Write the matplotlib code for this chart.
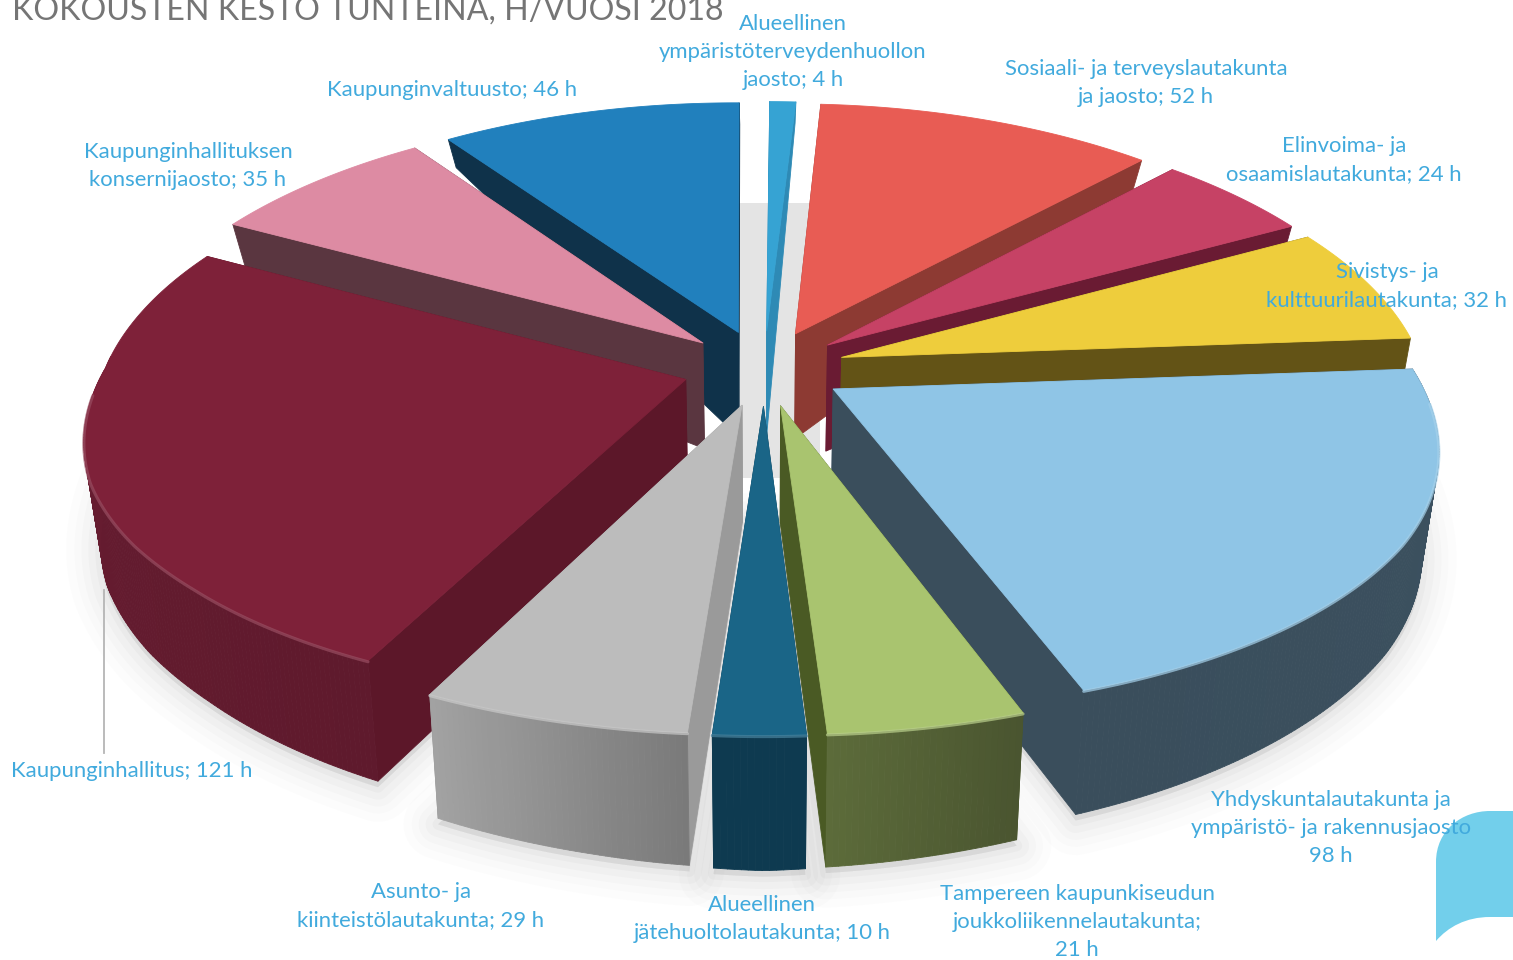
import numpy as np
import matplotlib
matplotlib.use("Agg")
import matplotlib.pyplot as plt
from matplotlib.patches import Polygon, PathPatch, Rectangle
from matplotlib.path import Path

# clockwise from 12 o'clock
hours = [4, 52, 24, 32, 98, 21, 10, 29, 121, 35, 46]
names = [
    "Alueellinen\nympäristöterveydenhuollon\njaosto; ",
    "Sosiaali- ja terveyslautakunta\nja jaosto; ",
    "Elinvoima- ja\nosaamislautakunta; ",
    "Sivistys- ja\nkulttuurilautakunta; ",
    "Yhdyskuntalautakunta ja\nympäristö- ja rakennusjaosto\n",
    "Tampereen kaupunkiseudun\njoukkoliikennelautakunta;\n",
    "Alueellinen\njätehuoltolautakunta; ",
    "Asunto- ja\nkiinteistölautakunta; ",
    "Kaupunginhallitus; ",
    "Kaupunginhallituksen\nkonsernijaosto; ",
    "Kaupunginvaltuusto; ",
]
top_colors = ["#36a3d3", "#e85c54", "#c64265", "#eecd3c", "#8fc5e6", "#a9c46f",
              "#1a6587", "#bcbcbc", "#7e2139", "#dd8ba3", "#2180bd"]
cut_colors = ["#2e8ab5", "#8d3a33", "#6a1b33", "#635316", "#3a4e5c", "#4a5a24",
              "#0e3a50", "#9a9a9a", "#5c1729", "#5a3640", "#0f324a"]
wall_start = ["#2e8ab5", "#8d3a33", "#6a1b33", "#635316", "#3c5160", "#4a5530",
              "#0e3a50", "#7a7a7a", "#5f1a2d", "#5a3640", "#0f324a"]
wall_end = ["#2e8ab5", "#8d3a33", "#6a1b33", "#635316", "#3a4e5c", "#5c6b3a",
            "#0e3a50", "#a2a2a2", "#6b1d32", "#5a3640", "#0f324a"]
label_x = [793, 1146, 1344, 1387, 1331, 1077, 762, 421, 132, 188, 452]
label_y = [52, 83, 160, 286, 828, 922, 919, 906, 771, 166, 90]

title = "KOKOUSTEN KESTO TUNTEINA, H/VUOSI 2018"
label_color = "#41aadd"

# projection of the pie plane to pixels
CX, CY = 764, 368
RX, RY = 612, 271
PERSP = 0.14
EXPLODE = 0.14
START = 0.4


def project(x, y):
    x = np.asarray(x)
    y = np.asarray(y)
    s = 1 / (1 + PERSP * y)
    squeeze = np.interp(y, [-1.2, -0.6, 0, 1.2], [1.0, 0.985, 0.95, 0.93])
    # the left half is not quite symmetric in the original
    back = 8 * np.clip(2 * y, 0, 1)
    front = 8 * np.clip(-3 * (y + 0.4), 0, 1) * np.clip(-4 * x, 0, 1)
    nudge = np.where(x < 0, back - front, 0)
    return CX + RX * x * s * squeeze - nudge, CY - RY * y * s


def depth_height(x, y):
    h = np.interp(y, [-1.2, -0.2, 0.15, 0.6, 1.2], [136, 120, 105, 50, 18])
    return h * (1 - 0.15 * np.abs(x))


def wedge_points(t0, t1, off):
    t = np.radians(np.linspace(t0, t1, max(int(t1 - t0) * 2, 4)))
    ox = off * np.sin(np.radians((t0 + t1) / 2))
    oy = off * np.cos(np.radians((t0 + t1) / 2))
    return ox, oy, ox + np.sin(t), oy + np.cos(t), t


def to_bottom(x, y):
    px, py = project(x, y)
    return px + (CX - px) * 0.025, py + depth_height(x, y)


def poly(ax, pts, color, z, alpha=None):
    ax.add_patch(Polygon(pts, closed=True, facecolor=color, edgecolor=color,
                         lw=0.6, zorder=z, alpha=alpha, joinstyle="round"))


def mix(c0, c1, f):
    a = np.array(matplotlib.colors.to_rgb(c0))
    b = np.array(matplotlib.colors.to_rgb(c1))
    return tuple(a + (b - a) * f)


def draw_floor(ax, spans):
    # soft shadow: stacked thick outlines of the front wedge footprints
    for lw, a in [(50, 0.02), (38, 0.025), (28, 0.03), (18, 0.04), (8, 0.05)]:
        for t0, t1 in spans:
            if np.cos(np.radians((t0 + t1) / 2)) > 0.2:
                continue
            ox, oy, x, y, _ = wedge_points(t0, t1, EXPLODE)
            bx, by = to_bottom(np.r_[ox, x], np.r_[oy, y])
            ax.add_patch(Polygon(np.c_[bx, by + 6], closed=True, facecolor="#808080",
                                 edgecolor="#808080", lw=lw, alpha=a, zorder=1,
                                 joinstyle="round"))
    # grey band seen through the gaps at the centre
    ax.add_patch(Rectangle((735, 203), 85, 275, facecolor="#e4e4e4",
                           edgecolor="none", zorder=1.5))


def draw_wedge(ax, t0, t1, i, z):
    ox, oy, x, y, t = wedge_points(t0, t1, EXPLODE)
    tx, ty = project(x, y)
    bx, by = to_bottom(x, y)
    ax0, ay0 = project(ox, oy)
    ax1, ay1 = to_bottom(ox, oy)

    # radial cut faces
    poly(ax, [(ax0, ay0), (tx[0], ty[0]), (bx[0], by[0]), (ax1, ay1)], cut_colors[i], z)
    poly(ax, [(ax0, ay0), (tx[-1], ty[-1]), (bx[-1], by[-1]), (ax1, ay1)], cut_colors[i], z)

    # outer wall, only the part facing the viewer
    n = len(t)
    for j in range(n - 1):
        if np.cos(t[j]) < 0.08:
            c = mix(wall_start[i], wall_end[i], j / (n - 2))
            poly(ax, [(tx[j], ty[j]), (tx[j + 1], ty[j + 1]),
                      (bx[j + 1], by[j + 1]), (bx[j], by[j])], c, z + 0.1)

    poly(ax, np.r_[[[ax0, ay0]], np.c_[tx, ty]], top_colors[i], z + 0.2)

    # bevel highlight along the front rim
    vis = np.cos(t) < -0.05
    if vis.sum() > 1:
        ax.plot(tx[vis], ty[vis] + 1, color=mix(top_colors[i], "#ffffff", 0.2),
                lw=2.2, alpha=0.7, zorder=z + 0.3, solid_capstyle="round")


def draw_corner(ax):
    verts = [(1436, 941), (1436, 862), (1436, 830), (1462, 811), (1490, 811),
             (1513, 811), (1513, 917), (1490, 917), (1466, 917), (1448, 927), (1436, 941)]
    codes = [Path.MOVETO, Path.LINETO, Path.CURVE4, Path.CURVE4, Path.CURVE4,
             Path.LINETO, Path.LINETO, Path.LINETO, Path.CURVE4, Path.CURVE4, Path.CURVE4]
    ax.add_patch(PathPatch(Path(verts, codes), facecolor="#72cfeb", edgecolor="none", zorder=20))


def main():
    fig = plt.figure(figsize=(15.13, 9.6), dpi=100)
    ax = fig.add_axes([0, 0, 1, 1])
    ax.set_xlim(0, 1513)
    ax.set_ylim(960, 0)
    ax.axis("off")

    cum = np.cumsum([0] + hours) / sum(hours) * 360 + START
    spans = [(cum[i], cum[i + 1]) for i in range(len(hours))]
    draw_floor(ax, spans)

    mids = [np.cos(np.radians((a + b) / 2)) for a, b in spans]
    order = np.argsort(mids)[::-1]
    for rank, i in enumerate(order):
        draw_wedge(ax, spans[i][0], spans[i][1], i, 3 + rank)

    draw_corner(ax)
    ax.plot([104, 104], [590, 753], color="#b5b5b5", lw=1.3, zorder=2)

    ax.text(12, 20, title, color="#757575", fontsize=23.1, family="Lato",
            ha="left", va="baseline", clip_on=False, zorder=30)
    for i, name in enumerate(names):
        ax.text(label_x[i], label_y[i], name + "%d h" % hours[i], color=label_color,
                fontsize=15.9, family="Lato", ha="center", va="center",
                linespacing=1.47, zorder=30)

    fig.savefig("out.png", dpi=100)


if __name__ == "__main__":
    main()
